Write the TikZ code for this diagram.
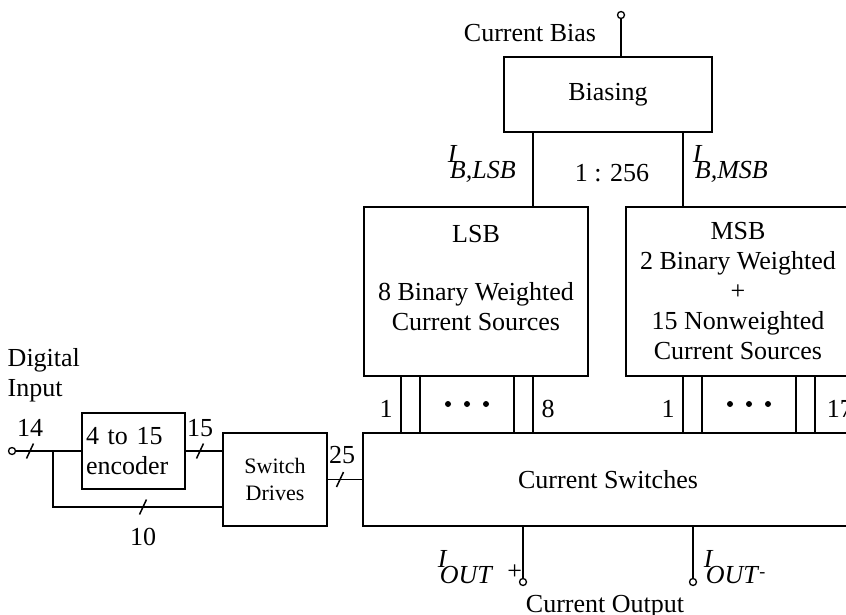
\documentclass[tikz,border=0pt]{standalone}
\usepackage{fontspec}
\setmainfont{Liberation Serif}
\newcommand{\isub}[1]{\textit{I}\kern-7.5pt\raisebox{-16pt}{\textit{#1}}}
\begin{document}
\begin{tikzpicture}[x=1pt,y=-1pt,line width=1.5pt,
  font=\fontsize{26}{30}\selectfont,
  blk/.style={draw,rectangle,inner sep=0pt},
  term/.style={draw,circle,fill=white,inner sep=0pt,minimum size=7pt,line width=1.3pt},
  lbl/.style={inner sep=0pt,anchor=base},
  busslash/.pic={\draw (-3.5,7.5) -- (3.5,-7.5);}]
\useasboundingbox (0,0) rectangle (846,615);
% blocks
\node[blk,minimum width=208pt,minimum height=75pt] (bias) at (608,94.5) {Biasing};
\node[blk,minimum width=224pt,minimum height=169pt] (lsb) at (476,291.5) {};
\node[blk,minimum width=224pt,minimum height=169pt,align=center] (msb) at (738,291.5)
  {MSB\\2 Binary Weighted\\+\\15 Nonweighted\\Current Sources};
\node[blk,minimum width=490pt,minimum height=93pt] (sw) at (608,479.5) {Current Switches};
\node[blk,text width=95pt,inner xsep=4pt,minimum height=76pt,align=left] (enc) at (133.5,451)
  {4 to 15\\encoder};
\node[blk,minimum width=104pt,minimum height=93pt,align=center,
  font=\fontsize{22}{27}\selectfont] (drv) at (275,479.5) {Switch\\Drives};
\node[inner sep=0pt,anchor=north,align=center] (lsbtxt) at (476,224.8)
  {LSB\\[28pt]8 Binary Weighted\\Current Sources};
% terminals
\node[term] (biasin) at (621,15) {};
\node[term] (din) at (12,451) {};
\node[term] (outp) at (523,582) {};
\node[term] (outn) at (693,582) {};
% bias connections
\coordinate (lsbtap) at (533,0);
\coordinate (msbtap) at (683,0);
\draw (biasin) -- (biasin |- bias.north);
\draw (bias.south -| lsbtap) -- (lsb.north -| lsbtap);
\draw (bias.south -| msbtap) -- (msb.north -| msbtap);
\node[lbl,anchor=base west] (iblsb) at (447,163) {\isub{B,LSB}};
\node[lbl,anchor=base west] (ibmsb) at (692,163) {\isub{B,MSB}};
\node[lbl] (ratio) at (612,182) {1 : 256};
\node[lbl] (curbias) at (530,42) {Current Bias};
% source lines into the switches
\foreach \x in {401,420,514,533,683,702,796,815} {
  \coordinate (tap) at (\x,0);
  \draw (lsb.south -| tap) -- (sw.north -| tap);
}
\foreach \x in {448,467,486,730,749,768}
  \fill (\x,404) circle (3pt);
\node[lbl] (l1) at (386,417) {1};
\node[lbl] (l8) at (548,417) {8};
\node[lbl] (m1) at (668,417) {1};
\node[lbl,anchor=base west] (m17) at (826,417) {17};
% digital side
\coordinate (jn) at (53,451);
\coordinate (jdn) at (53,507);
\draw (din) -- (enc.west);
\draw (jn) -- (jdn) -- (jdn -| drv.west);
\draw (enc.east) -- (enc.east -| drv.west);
\draw (drv.east) -- (drv.east -| sw.west);
\pic at (30,451) {busslash};
\pic at (200,451) {busslash};
\pic at (143,507) {busslash};
\pic at (340,479.5) {busslash};
\node[lbl] (n14) at (30,436) {14};
\node[lbl] (n15) at (200,436) {15};
\node[lbl] (n10) at (143,545) {10};
\node[lbl] (n25) at (342,463) {25};
\node[inner sep=0pt,anchor=north west,align=left] (dig) at (7,347.8) {Digital\\Input};
% outputs
\draw (sw.south -| outp) -- (outp);
\draw (sw.south -| outn) -- (outn);
\node[lbl,anchor=base west] (ioutp) at (437,567) {\isub{OUT}\hspace{14pt}\raisebox{-12pt}{+}};
\node[lbl,anchor=base west] (ioutn) at (703,567)
  {\isub{OUT}\raisebox{-10.5pt}{\fontsize{18}{18}\selectfont -}};
\node[lbl] (curout) at (605,612) {Current Output};
\end{tikzpicture}
\end{document}
